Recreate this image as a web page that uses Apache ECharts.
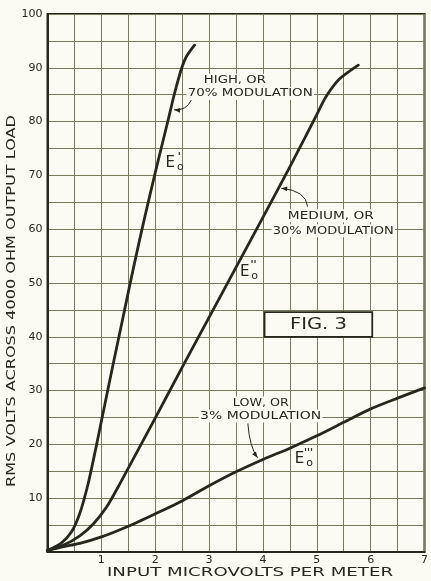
<!DOCTYPE html>
<html>
<head>
<meta charset="utf-8">
<script src="https://cdn.jsdelivr.net/npm/echarts@6/dist/echarts.min.js"></script>
<style>
  html, body { margin: 0; padding: 0; background: #fbfbf4; }
  #fig3 { width: 431px; height: 581px; }
</style>
</head>
<body>
<div id="fig3"></div>
<script>
// input microvolts per meter (x) against rms volts (y)
const highX = [0, 0.25, 0.45, 0.6, 0.75, 0.9, 1.0, 1.2, 1.4, 1.6, 1.8, 2.0, 2.11, 2.24, 2.35, 2.48, 2.58, 2.73];
const highY = [0.3, 1.6, 3.8, 7.2, 12.5, 19.4, 24.3, 34, 43.5, 53, 62, 70.5, 75, 80.3, 84.9, 89.6, 92.1, 94.2];

const mediumX = [0, 0.3, 0.6, 0.85, 1.1, 1.35, 1.7, 2.0, 2.5, 3.0, 3.5, 4.0, 4.5, 4.8, 5.0, 5.17, 5.42, 5.77];
const mediumY = [0.3, 1.3, 3.0, 5.2, 8.4, 12.8, 19.3, 24.9, 34.3, 43.6, 52.9, 62.2, 71.6, 77.4, 81.3, 84.6, 87.9, 90.5];

const lowX = [0, 0.3, 0.6, 1.0, 1.5, 2.0, 2.5, 3.0, 3.5, 4.0, 4.5, 5.0, 5.5, 6.0, 6.5, 7.0];
const lowY = [0.3, 1.0, 1.6, 2.8, 4.8, 7.1, 9.5, 12.3, 14.9, 17.2, 19.3, 21.6, 24.1, 26.6, 28.6, 30.5];

const xTicks = [1, 2, 3, 4, 5, 6, 7];
const yTicks = [10, 20, 30, 40, 50, 60, 70, 80, 90, 100];

const ink = '#25281b';
const gridInk = '#767b58';
const paper = '#fbfbf4';
const face = 'DejaVu Sans';

const chart = echarts.init(document.getElementById('fig3'));

const pairs = (xs, ys) => xs.map((x, i) => [x, ys[i]]);

function curve(name, xs, ys) {
  return {
    name: name,
    type: 'line',
    data: pairs(xs, ys),
    smooth: 0.25,
    showSymbol: false,
    silent: true,
    lineStyle: { color: ink, width: 2.8, cap: 'round', join: 'round' },
    z: 3
  };
}

chart.setOption({
  animation: false,
  backgroundColor: paper,
  grid: {
    left: 47.5, right: 5, top: 14, bottom: 29,
    show: true, borderColor: ink, borderWidth: 2, backgroundColor: 'transparent'
  },
  xAxis: {
    type: 'value', min: 0, max: 7, interval: 0.5,
    axisLine: { show: true, onZero: false, lineStyle: { color: ink, width: 2 } },
    axisTick: { show: false },
    axisLabel: {
      formatter: v => xTicks.includes(v) ? String(v) : '',
      color: ink, fontFamily: face, fontSize: 11, margin: 3
    },
    splitLine: { show: true, lineStyle: { color: gridInk, width: 1 } }
  },
  yAxis: {
    type: 'value', min: 0, max: 100, interval: 5,
    axisLine: { show: true, onZero: false, lineStyle: { color: ink, width: 2 } },
    axisTick: { show: false },
    axisLabel: {
      formatter: v => yTicks.includes(v) ? String(v) : '',
      color: ink, fontFamily: face, fontSize: 11, margin: 5
    },
    splitLine: { show: true, lineStyle: { color: gridInk, width: 1 } }
  },
  series: [
    curve('High, or 70% modulation', highX, highY),
    curve('Medium, or 30% modulation', mediumX, mediumY),
    curve('Low, or 3% modulation', lowX, lowY)
  ]
});

// ---- annotations, placed in data coordinates ----
const px = (x, y) => chart.convertToPixel({ gridIndex: 0 }, [x, y]);

const measure = document.createElement('canvas').getContext('2d');
function fit(text, size, width) {
  measure.font = size + 'px "' + face + '"';
  return width / measure.measureText(text).width;
}

function label(text, at, size, width) {
  const p = px(at[0], at[1]);
  return {
    type: 'text', x: p[0], y: p[1], z: 10,
    scaleX: fit(text, size, width),
    style: {
      text: text, fill: ink, fontFamily: face, fontSize: size,
      align: 'left', verticalAlign: 'middle',
      backgroundColor: paper, padding: [1, 1]
    }
  };
}

function arrow(from, ctrl, to) {
  const a = px(from[0], from[1]), c = px(ctrl[0], ctrl[1]), b = px(to[0], to[1]);
  const ang = Math.atan2(b[1] - c[1], b[0] - c[0]);
  const L = 6, W = 2.4;
  const cos = Math.cos(ang), sin = Math.sin(ang);
  const head = [
    [b[0], b[1]],
    [b[0] - L * cos + W * sin, b[1] - L * sin - W * cos],
    [b[0] - L * cos - W * sin, b[1] - L * sin + W * cos]
  ];
  return [
    { type: 'bezierCurve', z: 10, shape: { x1: a[0], y1: a[1], x2: b[0], y2: b[1], cpx1: c[0], cpy1: c[1] },
      style: { stroke: ink, lineWidth: 1, fill: null } },
    { type: 'polygon', z: 10, shape: { points: head }, style: { fill: ink } }
  ];
}

// E with primes above and subscript o
function eLabel(primes, at) {
  const p = px(at[0], at[1]);
  return [
    { type: 'text', x: p[0], y: p[1], z: 10,
      style: { text: 'E', fill: ink, fontFamily: face, fontSize: 15, align: 'center', verticalAlign: 'middle' } },
    { type: 'text', x: p[0] + 9, y: p[1] - 6, z: 10,
      style: { text: primes, fill: ink, fontFamily: face, fontSize: 10, fontWeight: 'bold', align: 'center', verticalAlign: 'middle' } },
    { type: 'text', x: p[0] + 10, y: p[1] + 4, z: 10,
      style: { text: 'o', fill: ink, fontFamily: face, fontSize: 11, align: 'center', verticalAlign: 'middle' } }
  ];
}

const boxA = px(4.03, 44.6), boxB = px(6.03, 40.0);

const graphics = [
  label('HIGH, OR', [2.88, 87.7], 11, 62),
  label('70% MODULATION', [2.58, 85.2], 11, 125),
  label('MEDIUM, OR', [4.44, 62.5], 11, 86),
  label('30% MODULATION', [4.16, 59.7], 11, 121),
  label('LOW, OR', [3.42, 27.7], 11, 56),
  label('3% MODULATION', [2.81, 25.3], 11, 121),
  ...arrow([2.67, 84.0], [2.58, 82.0], [2.35, 82.2]),
  ...arrow([4.83, 64.2], [4.80, 67.2], [4.34, 67.6]),
  ...arrow([3.72, 23.9], [3.75, 19.6], [3.90, 17.5]),
  ...eLabel("'", [2.28, 72.2]),
  ...eLabel("''", [3.66, 52.1]),
  ...eLabel("'''", [4.68, 17.3]),
  {
    type: 'rect', z: 10,
    shape: { x: boxA[0], y: boxA[1], width: boxB[0] - boxA[0], height: boxB[1] - boxA[1] },
    style: { fill: paper, stroke: ink, lineWidth: 1.8 }
  },
  {
    type: 'text', z: 11, x: (boxA[0] + boxB[0]) / 2, y: (boxA[1] + boxB[1]) / 2,
    scaleX: fit('FIG. 3', 16, 57),
    style: { text: 'FIG. 3', fill: ink, fontFamily: face, fontSize: 16, align: 'center', verticalAlign: 'middle' }
  },
  // axis titles
  {
    type: 'text', z: 10, x: 12, y: 301, rotation: Math.PI / 2,
    scaleX: fit('RMS VOLTS ACROSS 4000 OHM OUTPUT LOAD', 12, 372),
    style: { text: 'RMS VOLTS ACROSS 4000 OHM OUTPUT LOAD', fill: ink, fontFamily: face, fontSize: 12,
      align: 'center', verticalAlign: 'middle' }
  },
  {
    type: 'text', z: 10, x: 250, y: 573,
    scaleX: fit('INPUT MICROVOLTS PER METER', 12, 286),
    style: { text: 'INPUT MICROVOLTS PER METER', fill: ink, fontFamily: face, fontSize: 12,
      align: 'center', verticalAlign: 'middle' }
  }
];

chart.setOption({ graphic: graphics });
</script>
</body>
</html>
